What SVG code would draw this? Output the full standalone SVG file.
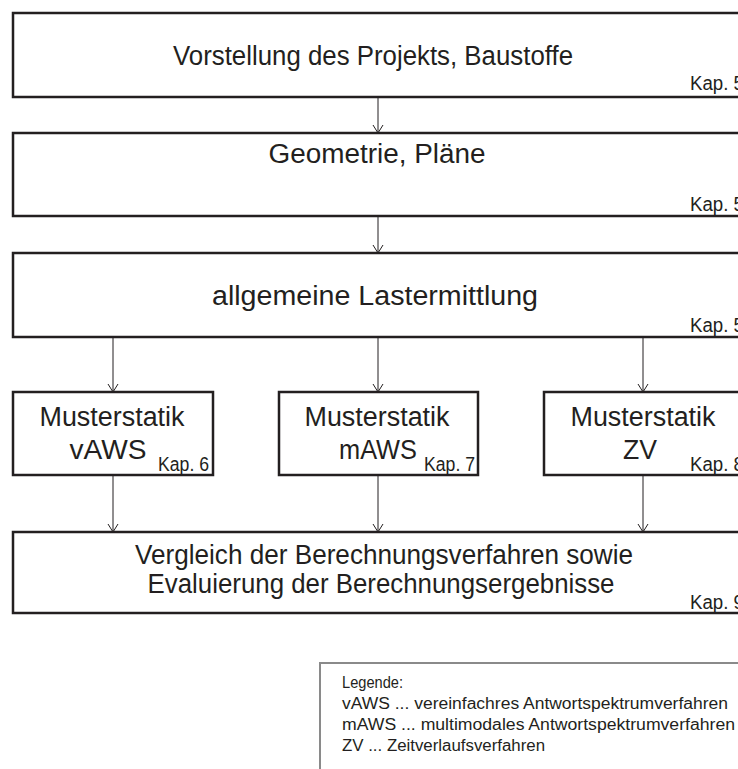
<svg xmlns="http://www.w3.org/2000/svg" width="738" height="769" viewBox="0 0 738 769">
<style>
.box{fill:#fff;stroke:#231f20;stroke-width:2.5}
.leg{fill:#fff;stroke:#8a8a8a;stroke-width:2}
text{font-family:"Liberation Sans Narrow","Liberation Sans",Arial,sans-serif;fill:#231f20}
.t{font-size:27px;text-anchor:middle}
.k{font-size:20px}
.l{font-size:16px}
.c{stroke:#231f20;stroke-width:1;fill:none}
</style>
<g id="connectors">
<line class="c" x1="378" y1="97" x2="378" y2="133"/>
<line class="c" x1="378" y1="216" x2="378" y2="253"/>
<line class="c" x1="113" y1="337" x2="113" y2="392"/>
<line class="c" x1="378" y1="337" x2="378" y2="392"/>
<line class="c" x1="643" y1="337" x2="643" y2="392"/>
<line class="c" x1="113" y1="475" x2="113" y2="532"/>
<line class="c" x1="378" y1="475" x2="378" y2="532"/>
<line class="c" x1="643" y1="475" x2="643" y2="532"/>
<path class="c" d="M373,125 L378,133 L383,125 M373,245 L378,253 L383,245 M108,384 L113,392 L118,384 M373,384 L378,392 L383,384 M638,384 L643,392 L648,384 M108,524 L113,532 L118,524 M373,524 L378,532 L383,524 M638,524 L643,532 L648,524"/>
</g>
<g id="n1">
<rect class="box" x="13" y="13" width="740" height="84"/>
<text class="t" x="373" y="65" textLength="400" lengthAdjust="spacingAndGlyphs">Vorstellung des Projekts, Baustoffe</text>
<text class="k" x="690" y="90" textLength="54" lengthAdjust="spacingAndGlyphs">Kap. 5</text>
</g>
<g id="n2">
<rect class="box" x="13" y="133" width="740" height="83"/>
<text class="t" x="377" y="163" textLength="217" lengthAdjust="spacingAndGlyphs">Geometrie, Pläne</text>
<text class="k" x="690" y="211" textLength="54" lengthAdjust="spacingAndGlyphs">Kap. 5</text>
</g>
<g id="n3">
<rect class="box" x="13" y="253" width="740" height="84"/>
<text class="t" x="375" y="305" textLength="326" lengthAdjust="spacingAndGlyphs">allgemeine Lastermittlung</text>
<text class="k" x="690" y="332" textLength="54" lengthAdjust="spacingAndGlyphs">Kap. 5</text>
</g>
<g id="n4">
<rect class="box" x="13" y="392" width="200" height="83"/>
<text class="t" x="112" y="426" textLength="145" lengthAdjust="spacingAndGlyphs">Musterstatik</text>
<text class="t" x="108" y="459" textLength="77" lengthAdjust="spacingAndGlyphs">vAWS</text>
<text class="k" x="158" y="471" textLength="51" lengthAdjust="spacingAndGlyphs">Kap. 6</text>
</g>
<g id="n5">
<rect class="box" x="279" y="392" width="199" height="83"/>
<text class="t" x="377" y="426" textLength="145" lengthAdjust="spacingAndGlyphs">Musterstatik</text>
<text class="t" x="378" y="459" textLength="78" lengthAdjust="spacingAndGlyphs">mAWS</text>
<text class="k" x="424" y="471" textLength="51" lengthAdjust="spacingAndGlyphs">Kap. 7</text>
</g>
<g id="n6">
<rect class="box" x="544" y="392" width="210" height="83"/>
<text class="t" x="643" y="426" textLength="145" lengthAdjust="spacingAndGlyphs">Musterstatik</text>
<text class="t" x="640" y="459" textLength="34" lengthAdjust="spacingAndGlyphs">ZV</text>
<text class="k" x="690" y="471" textLength="54" lengthAdjust="spacingAndGlyphs">Kap. 8</text>
</g>
<g id="n7">
<rect class="box" x="13" y="532" width="740" height="81"/>
<text class="t" x="384" y="564" textLength="498" lengthAdjust="spacingAndGlyphs">Vergleich der Berechnungsverfahren sowie</text>
<text class="t" x="381" y="593" textLength="467" lengthAdjust="spacingAndGlyphs">Evaluierung der Berechnungsergebnisse</text>
<text class="k" x="690" y="609" textLength="54" lengthAdjust="spacingAndGlyphs">Kap. 9</text>
</g>
<g id="legend">
<rect class="leg" x="320" y="663" width="440" height="130"/>
<text class="l" x="342" y="688" textLength="61" lengthAdjust="spacingAndGlyphs">Legende:</text>
<text class="l" x="342" y="709" textLength="386" lengthAdjust="spacingAndGlyphs">vAWS ... vereinfachres Antwortspektrumverfahren</text>
<text class="l" x="342" y="730" textLength="393" lengthAdjust="spacingAndGlyphs">mAWS ... multimodales Antwortspektrumverfahren</text>
<text class="l" x="342" y="751" textLength="203" lengthAdjust="spacingAndGlyphs">ZV ... Zeitverlaufsverfahren</text>
</g>
</svg>
